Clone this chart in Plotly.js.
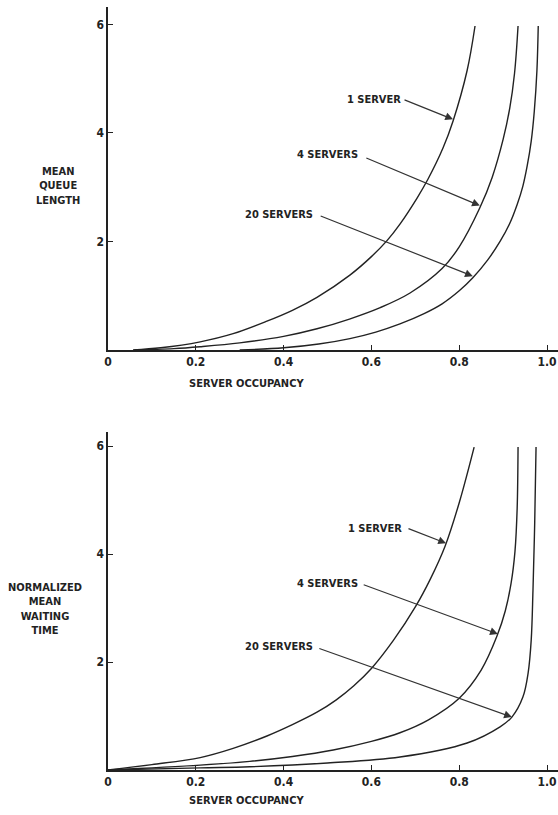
<!DOCTYPE html>
<html>
<head>
<meta charset="utf-8">
<script src="https://cdn.plot.ly/plotly-3.0.1.min.js"></script>
<style>html,body{margin:0;padding:0;background:#fff;}#chart{width:558px;height:815px;}</style>
</head>
<body>
<div id="chart"></div>
<script>
// ---- Top panel: mean queue length ----
var q1x = [0.057, 0.12, 0.21, 0.285, 0.362, 0.42, 0.476, 0.551, 0.60, 0.636, 0.665, 0.704, 0.729, 0.763, 0.786, 0.818, 0.836];
var q1y = [0, 0.04, 0.15, 0.30, 0.53, 0.73, 0.97, 1.38, 1.72, 2.02, 2.32, 2.80, 3.15, 3.72, 4.22, 5.15, 5.97];
var q4x = [0.06, 0.15, 0.21, 0.30, 0.40, 0.476, 0.55, 0.62, 0.688, 0.761, 0.80, 0.847, 0.875, 0.90, 0.915, 0.926, 0.934];
var q4y = [0, 0.025, 0.06, 0.13, 0.25, 0.39, 0.57, 0.78, 1.05, 1.50, 1.90, 2.62, 3.18, 3.88, 4.45, 5.10, 5.97];
var q20x = [0.30, 0.40, 0.48, 0.551, 0.61, 0.665, 0.72, 0.761, 0.80, 0.831, 0.865, 0.893, 0.915, 0.932, 0.945, 0.955, 0.964, 0.971, 0.977, 0.98];
var q20y = [0, 0.04, 0.11, 0.21, 0.33, 0.48, 0.67, 0.85, 1.09, 1.33, 1.66, 2.00, 2.33, 2.68, 3.02, 3.40, 3.85, 4.40, 5.15, 5.97];

// ---- Bottom panel: normalized mean waiting time ----
var w1x = [0, 0.10, 0.21, 0.285, 0.362, 0.42, 0.476, 0.52, 0.56, 0.60, 0.65, 0.70, 0.735, 0.768, 0.80, 0.834];
var w1y = [0, 0.10, 0.23, 0.40, 0.63, 0.84, 1.07, 1.30, 1.56, 1.88, 2.40, 3.02, 3.55, 4.15, 4.95, 5.98];
var w4x = [0, 0.21, 0.323, 0.42, 0.513, 0.60, 0.665, 0.73, 0.80, 0.85, 0.886, 0.905, 0.918, 0.927, 0.932, 0.934];
var w4y = [0, 0.09, 0.16, 0.25, 0.37, 0.53, 0.69, 0.93, 1.33, 1.85, 2.48, 2.95, 3.45, 4.05, 4.85, 5.98];
var w20x = [0, 0.21, 0.323, 0.50, 0.665, 0.818, 0.893, 0.92, 0.945, 0.957, 0.964, 0.968, 0.972, 0.975];
var w20y = [0, 0.04, 0.06, 0.13, 0.24, 0.50, 0.80, 0.98, 1.35, 1.80, 2.41, 3.33, 4.60, 5.98];

var xTickVals = [0, 0.2, 0.4, 0.6, 0.8, 1.0];
var xTickText = ["0", "0.2", "0.4", "0.6", "0.8", "1.0"];
var yTickVals = [2, 4, 6];
var seriesLabels = ["1 SERVER", "4 SERVERS", "20 SERVERS"];

var FONT = "DejaVu Sans Condensed, Liberation Sans Narrow, Arial Narrow, sans-serif";
var INK = "#222";

function curve(x, y, xa, ya) {
  return {x: x, y: y, xaxis: xa, yaxis: ya, mode: "lines", type: "scatter",
          line: {color: INK, width: 1.4, shape: "spline", smoothing: 1},
          hoverinfo: "skip", showlegend: false};
}

var data = [
  curve(q1x, q1y, "x", "y"), curve(q4x, q4y, "x", "y"), curve(q20x, q20y, "x", "y"),
  curve(w1x, w1y, "x2", "y2"), curve(w4x, w4y, "x2", "y2"), curve(w20x, w20y, "x2", "y2")
];

var TICKFONT = {family: FONT, size: 12, color: INK, weight: "bold"};
var LABELFONT = {family: FONT, size: 11, color: INK, weight: "bold"};

function xax(anchor) {
  return {range: [0, 1.025], anchor: anchor, showgrid: false, zeroline: false, showline: true,
          linecolor: INK, linewidth: 1.6, ticks: "inside", ticklen: 5, tickwidth: 1, tickcolor: INK,
          tickvals: xTickVals, ticktext: xTickText, fixedrange: true, tickfont: TICKFONT};
}
function yax(anchor, top, domain) {
  return {range: [0, top], domain: domain, anchor: anchor, showgrid: false, zeroline: false, showline: true,
          linecolor: INK, linewidth: 1.6, ticks: "inside", ticklen: 5, tickwidth: 1, tickcolor: INK,
          tickvals: yTickVals, fixedrange: true, tickfont: TICKFONT};
}

// labels + arrows (arrow tail at label, head on curve)
var labelPos = {
  top: [[0.606, 4.62, 0.672, 4.62, 0.786, 4.25],
        [0.501, 3.60, 0.585, 3.55, 0.847, 2.66],
        [0.390, 2.50, 0.481, 2.48, 0.831, 1.36]],
  bottom: [[0.608, 4.48, 0.681, 4.48, 0.770, 4.20],
           [0.501, 3.46, 0.579, 3.44, 0.888, 2.52],
           [0.390, 2.28, 0.478, 2.26, 0.920, 0.98]]
};

var annotations = [];
function addLabels(list, xr, yr) {
  list.forEach(function (p, i) {
    annotations.push({xref: xr, yref: yr, x: p[0], y: p[1], text: seriesLabels[i], showarrow: false,
                      font: LABELFONT, xanchor: "center", yanchor: "middle"});
    annotations.push({xref: xr, yref: yr, axref: xr, ayref: yr, x: p[4], y: p[5], ax: p[2], ay: p[3],
                      text: "", showarrow: true, arrowhead: 2, arrowsize: 1.3, arrowwidth: 1.2,
                      arrowcolor: "#333", standoff: 0, startstandoff: 0});
  });
}
addLabels(labelPos.top, "x", "y");
addLabels(labelPos.bottom, "x2", "y2");

// axis titles
annotations.push({xref: "paper", yref: "paper", x: 0.307, y: 0.506, text: "SERVER OCCUPANCY", showarrow: false,
                  font: LABELFONT, xanchor: "center", yanchor: "middle"});
annotations.push({xref: "paper", yref: "paper", x: 0.307, y: -0.04, text: "SERVER OCCUPANCY", showarrow: false,
                  font: LABELFONT, xanchor: "center", yanchor: "middle"});
annotations.push({xref: "paper", yref: "paper", x: -0.112, y: 0.765, text: "MEAN<br>QUEUE<br>LENGTH", showarrow: false,
                  font: LABELFONT, xanchor: "center", yanchor: "middle", align: "center"});
annotations.push({xref: "paper", yref: "paper", x: -0.14, y: 0.211, text: "NORMALIZED<br>MEAN<br>WAITING<br>TIME", showarrow: false,
                  font: LABELFONT, xanchor: "center", yanchor: "middle", align: "center"});

var layout = {
  width: 558, height: 815,
  margin: {l: 108, r: 0, t: 7, b: 45},
  paper_bgcolor: "#fff", plot_bgcolor: "#fff",
  showlegend: false,
  xaxis: xax("y"),
  yaxis: yax("x", 6.32, [0.5505, 1.0]),
  xaxis2: xax("y2"),
  yaxis2: yax("x2", 6.26, [0, 0.443]),
  annotations: annotations,
  font: {family: FONT, color: INK}
};

Plotly.newPlot("chart", data, layout, {staticPlot: true, displayModeBar: false});
</script>
</body>
</html>
